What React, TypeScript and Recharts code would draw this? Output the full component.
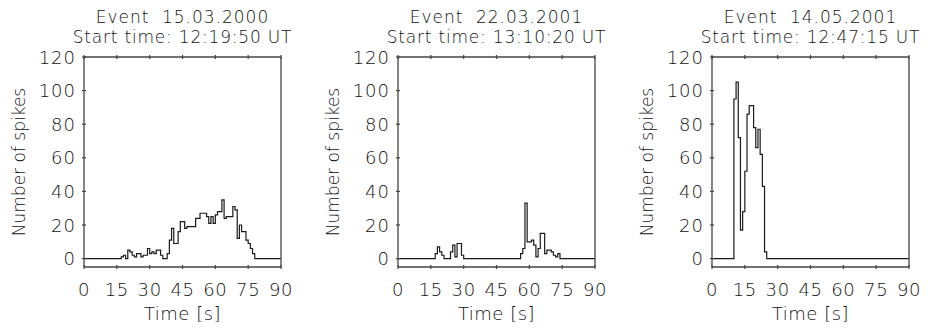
import { LineChart, Line, XAxis, YAxis } from 'recharts'

// spike counts per 1 s bin, starting at firstSecond[i]
const eventDates = ['15.03.2000', '22.03.2001', '14.05.2001']
const startTimes = ['12:19:50', '13:10:20', '12:47:15']
const firstSecond = [15, 17, 10]

const spikes20000315 = [
  0, 0, 1, 2, 0, 5, 4, 2, 1, 3, 3, 1, 2, 2, 6, 3, 4, 3, 5, 5,
  2, 0, 0, 3, 11, 18, 9, 9, 16, 22, 22, 18, 19, 19, 19, 19, 24, 24, 27, 27,
  27, 25, 21, 25, 21, 26, 28, 28, 35, 24, 25, 25, 25, 31, 29, 12, 20, 16, 16, 11,
  9, 6, 3, 0,
]
const spikes20010322 = [
  3, 7, 4, 2, 0, 0, 0, 4, 8, 1, 9, 9, 2, 0, 0, 0, 0, 0, 0, 0,
  0, 0, 0, 0, 0, 0, 0, 0, 0, 0, 0, 0, 0, 0, 0, 0, 0, 0, 0, 3,
  6, 33, 10, 10, 11, 8, 1, 6, 15, 15, 3, 5, 5, 4, 2, 1, 3, 0,
]
const spikes20010514 = [95, 105, 72, 17, 28, 52, 86, 91, 91, 78, 66, 77, 62, 43, 4, 0]

const spikeCounts = [spikes20000315, spikes20010322, spikes20010514]

const TIME_TICKS = [0, 15, 30, 45, 60, 75, 90]
const COUNT_TICKS = [0, 20, 40, 60, 80, 100, 120]

const FONT = '"DejaVu Sans", Verdana, sans-serif'
const INK = '#111'
const AXIS = '#444'
const TICK_LEN = 4

const PANEL_W = 310
const PANEL_H = 332
const PLOT_LEFT = 84
const PLOT_RIGHT = 281
const PLOT_TOP = 57
const PLOT_BOTTOM = 267

function buildSeries(start: number, counts: number[]) {
  const pts = [{ t: 0, n: 0 }]
  counts.forEach((n, i) => pts.push({ t: start + i, n }))
  pts.push({ t: 90, n: 0 })
  return pts
}

const textStyle = { fontFamily: FONT, fill: INK, fontWeight: 200 }

function Panel({ index }: { index: number }) {
  const data = buildSeries(firstSecond[index], spikeCounts[index])
  const cx = (PLOT_LEFT + PLOT_RIGHT) / 2
  const cy = (PLOT_TOP + PLOT_BOTTOM) / 2

  return (
    <div style={{ position: 'absolute', left: index * 314, top: 0, width: PANEL_W, height: PANEL_H }}>
      <LineChart
        width={PANEL_W}
        height={PANEL_H}
        data={data}
        margin={{ top: PLOT_TOP - 1, right: PANEL_W - PLOT_RIGHT - 1, bottom: PANEL_H - PLOT_BOTTOM - 30, left: PLOT_LEFT - 60 }}
      >
        <XAxis
          xAxisId="b"
          dataKey="t"
          type="number"
          domain={[0, 90]}
          ticks={TIME_TICKS}
          interval={0}
          height={30}
          tickSize={0}
          tickLine={false}
          axisLine={{ stroke: AXIS, strokeWidth: 1.3 }}
          tick={(p: any) => (
            <g>
              <line x1={p.x} x2={p.x} y1={p.y} y2={p.y - TICK_LEN} stroke={AXIS} strokeWidth={1.2} />
              <text x={p.x} y={p.y + 27} textAnchor="middle" fontSize={18} letterSpacing={0.6} {...textStyle}>
                {p.payload.value}
              </text>
            </g>
          )}
        />
        <XAxis
          xAxisId="t"
          orientation="top"
          dataKey="t"
          type="number"
          domain={[0, 90]}
          ticks={TIME_TICKS}
          interval={0}
          height={1}
          tickSize={0}
          tickLine={false}
          axisLine={{ stroke: AXIS, strokeWidth: 1.3 }}
          tick={(p: any) => (
            <line x1={p.x} x2={p.x} y1={p.y} y2={p.y + TICK_LEN} stroke={AXIS} strokeWidth={1.2} />
          )}
        />
        <YAxis
          yAxisId="l"
          type="number"
          domain={[-5, 120]}
          ticks={COUNT_TICKS}
          interval={0}
          width={60}
          tickSize={0}
          tickLine={false}
          axisLine={{ stroke: AXIS, strokeWidth: 1.3 }}
          tick={(p: any) => (
            <g>
              <line x1={p.x} x2={p.x + TICK_LEN} y1={p.y} y2={p.y} stroke={AXIS} strokeWidth={1.2} />
              <text x={p.x - 6} y={p.y + 6.5} textAnchor="end" fontSize={18} letterSpacing={1} {...textStyle}>
                {p.payload.value}
              </text>
            </g>
          )}
        />
        <YAxis
          yAxisId="r"
          orientation="right"
          type="number"
          domain={[-5, 120]}
          ticks={COUNT_TICKS}
          interval={0}
          width={1}
          tickSize={0}
          tickLine={false}
          axisLine={{ stroke: AXIS, strokeWidth: 1.3 }}
          tick={(p: any) => (
            <line x1={p.x} x2={p.x - TICK_LEN} y1={p.y} y2={p.y} stroke={AXIS} strokeWidth={1.2} />
          )}
        />
        <Line
          xAxisId="b"
          yAxisId="l"
          type="stepAfter"
          dataKey="n"
          stroke="#1a1a1a"
          strokeWidth={1.2}
          dot={false}
          activeDot={false}
          isAnimationActive={false}
        />
      </LineChart>
      <svg
        width={PANEL_W}
        height={PANEL_H}
        style={{ position: 'absolute', left: 0, top: 0, pointerEvents: 'none' }}
      >
        <text x={cx} y={23} textAnchor="middle" fontSize={17} letterSpacing={1} wordSpacing={6} {...textStyle}>
          Event {eventDates[index]}
        </text>
        <text x={cx} y={43} textAnchor="middle" fontSize={17} letterSpacing={0.8} {...textStyle}>
          Start time: {startTimes[index]} UT
        </text>
        <text x={cx} y={320} textAnchor="middle" fontSize={18} letterSpacing={0.5} {...textStyle}>
          Time [s]
        </text>
        <text
          x={25}
          y={cy}
          transform={`rotate(-90 25 ${cy})`}
          textAnchor="middle"
          fontSize={17}
          {...textStyle}
        >
          Number of spikes
        </text>
      </svg>
    </div>
  )
}

export default function App() {
  return (
    <div style={{ position: 'absolute', left: 0, top: 0, width: 929, height: 332, background: '#fff' }}>
      {[0, 1, 2].map((i) => (
        <Panel key={i} index={i} />
      ))}
    </div>
  )
}
